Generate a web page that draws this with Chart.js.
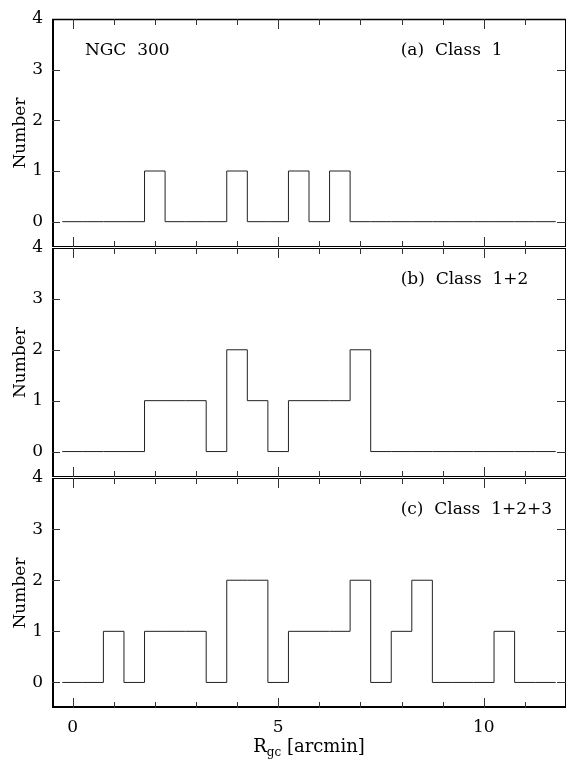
<!DOCTYPE html>
<html><head><meta charset="utf-8">
<script src="https://cdn.jsdelivr.net/npm/chart.js@4.4.1/dist/chart.umd.min.js"></script>
<style>
html,body{margin:0;padding:0;background:#fff;}
#wrap{position:relative;width:568px;height:762px;background:#fff;overflow:hidden;}
#wrap canvas{position:absolute;left:0;}
</style></head><body>
<div id="wrap">
<canvas id="pa" width="568" height="250" style="top:0px;width:568px;height:250px"></canvas>
<canvas id="pb" width="568" height="250" style="top:229px;width:568px;height:250px"></canvas>
<canvas id="pc" width="568" height="303" style="top:459px;width:568px;height:303px"></canvas>
</div>
<script>
// ---- data ----
const binCenters = [0,0.5,1,1.5,2,2.5,3,3.5,4,4.5,5,5.5,6,6.5,7,7.5,8,8.5,9,9.5,10,10.5,11,11.5];
const binWidth = 0.5;
const classOne        = [0,0,0,0,1,0,0,0,1,0,0,1,0,1,0,0,0,0,0,0,0,0,0,0];
const classOneTwo     = [0,0,0,0,1,1,1,0,2,1,0,1,1,1,2,0,0,0,0,0,0,0,0,0];
const classOneTwoThree= [0,0,1,0,1,1,1,0,2,2,0,1,1,1,2,0,1,2,0,0,0,1,0,0];
const panelLabels = ['(a)  Class  1','(b)  Class  1+2','(c)  Class  1+2+3'];
const galaxyLabel = 'NGC  300';
const yTickValues = [0,1,2,3,4];
const xTickLabelValues = [0,5,10];
const xTickMarkValues = [0,1,2,3,4,5,6,7,8,9,10,11];
const xAxisTitle = ['R','gc',' [arcmin]'];
const yAxisTitle = 'Number';

const FONT = '"DejaVu Serif", serif';

function stepPoints(vals){
  const pts = vals.map((v,i)=>({x: binCenters[i]-binWidth/2, y: v}));
  pts.push({x: binCenters[binCenters.length-1]+binWidth/2, y: vals[vals.length-1]});
  return pts;
}

function framePlugin(idx, isLast){
  return {
    id:'frame'+idx,
    afterDraw(chart){
      const ctx = chart.ctx;
      const {left,right,top,bottom} = chart.chartArea;
      const xs = chart.scales.x, ys = chart.scales.y;
      ctx.save();
      ctx.strokeStyle = '#000';
      ctx.lineCap = 'butt';
      const line=(x1,y1,x2,y2,w)=>{ctx.lineWidth=w;ctx.beginPath();ctx.moveTo(x1,y1);ctx.lineTo(x2,y2);ctx.stroke();};
      // frame
      line(left, top+0.5, right, top+0.5, idx===0?1.3:1);
      line(right-0.5, top, right-0.5, bottom, 1);
      if(isLast) line(left, bottom-1, right, bottom-1, 2);
      else line(left, bottom-0.5, right, bottom-0.5, 1);
      line(left+1, top, left+1, bottom, 2);
      // x tick marks (top and bottom, inward)
      ctx.strokeStyle = '#333';
      xTickMarkValues.forEach(v=>{
        const px = Math.round(xs.getPixelForValue(v))+0.5;
        const len = (v%5===0)?10:6;
        line(px, top, px, top+len, 1);
        line(px, bottom, px, bottom-len, 1);
      });
      // y tick marks (left and right, inward)
      yTickValues.forEach(v=>{
        if(v===4) return;
        const py = Math.round(ys.getPixelForValue(v))+0.5;
        line(left, py, left+8, py, 1);
        line(right, py, right-9, py, 1);
      });
      // annotations
      ctx.fillStyle = '#000';
      ctx.font = '17px '+FONT;
      ctx.textBaseline = 'middle';
      ctx.textAlign = 'left';
      const ly = ys.getPixelForValue(3.38);
      if(idx===0) ctx.fillText(galaxyLabel, xs.getPixelForValue(0.3), ly);
      ctx.fillText(panelLabels[idx], xs.getPixelForValue(7.98), ly);
      // x axis title
      if(isLast){
        const big='18px '+FONT, small='12px '+FONT;
        ctx.font=big; const w1=ctx.measureText(xAxisTitle[0]).width;
        ctx.font=small; const w2=ctx.measureText(xAxisTitle[1]).width;
        ctx.font=big; const w3=ctx.measureText(xAxisTitle[2]).width;
        const total=w1+w2+w3;
        let x=(left+right)/2-total/2;
        const base=bottom+44;
        ctx.textBaseline='alphabetic';
        ctx.font=big; ctx.fillText(xAxisTitle[0],x,base); x+=w1;
        ctx.font=small; ctx.fillText(xAxisTitle[1],x,base+4); x+=w2;
        ctx.font=big; ctx.fillText(xAxisTitle[2],x,base);
      }
      ctx.restore();
    }
  };
}

function makePanel(id, idx, vals, isLast){
  const cfg = {
    type:'line',
    data:{datasets:[{
      data: stepPoints(vals),
      stepped: 'before',
      borderColor:'#222',
      borderWidth:1,
      pointRadius:0,
      fill:false
    }]},
    options:{
      responsive:false,
      maintainAspectRatio:false,
      animation:false,
      devicePixelRatio:1,
      layout:{padding:{left:0,right:2,top:19,bottom:isLast?0:(idx===0?3:2)}},
      plugins:{legend:{display:false},tooltip:{enabled:false}},
      scales:{
        x:{
          type:'linear', min:-0.5, max:12,
          display: isLast ? true : false,
          grid:{display:false,drawTicks:false},
          border:{display:false},
          afterBuildTicks:s=>{s.ticks=xTickLabelValues.map(v=>({value:v}));},
          afterFit:s=>{s.height = isLast ? 54 : 0; s.paddingLeft=0; s.paddingRight=0;},
          ticks:{color:'#000',font:{family:FONT,size:17},padding:9,maxRotation:0}
        },
        y:{
          type:'linear', min:-0.5, max:4,
          grid:{display:false,drawTicks:false},
          border:{display:false},
          afterBuildTicks:s=>{s.ticks=yTickValues.map(v=>({value:v}));},
          afterFit:s=>{s.width=52; s.paddingTop=0; s.paddingBottom=0;},
          ticks:{color:'#000',font:{family:FONT,size:17},padding:9},
          title:{display:true,text:yAxisTitle,color:'#000',font:{family:FONT,size:17},padding:{top:10,bottom:0}}
        }
      }
    },
    plugins:[framePlugin(idx,isLast)]
  };
  return new Chart(document.getElementById(id), cfg);
}

makePanel('pa',0,classOne,false);
makePanel('pb',1,classOneTwo,false);
makePanel('pc',2,classOneTwoThree,true);
</script>
</body></html>
